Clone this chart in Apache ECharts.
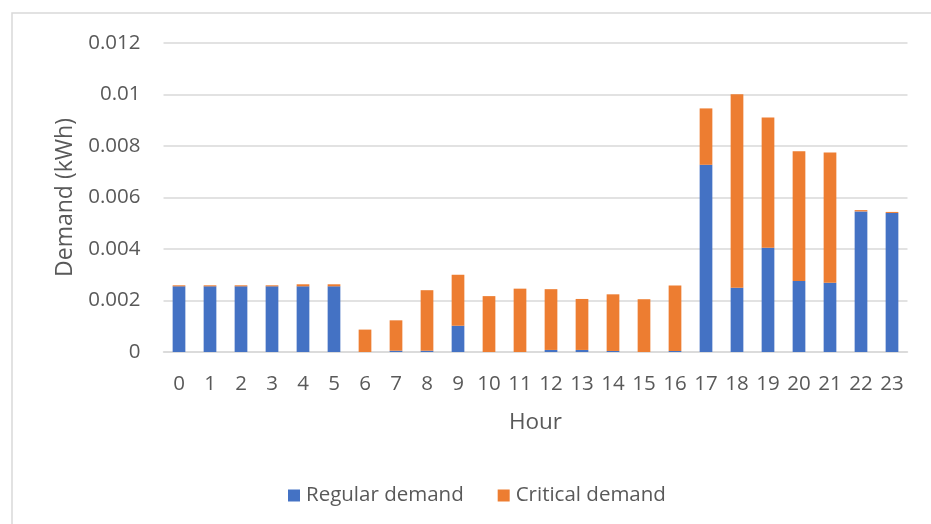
<!DOCTYPE html>
<html>
<head>
<meta charset="utf-8">
<script src="https://cdn.jsdelivr.net/npm/echarts@6/dist/echarts.min.js"></script>
<style>
  html, body { margin: 0; padding: 0; background: #fff; }
  #chart { width: 931px; height: 524px; }
</style>
</head>
<body>
<div id="chart"></div>
<script>
// Hourly demand split into regular and critical components (kWh)
const hours = ['0','1','2','3','4','5','6','7','8','9','10','11','12','13','14','15','16','17','18','19','20','21','22','23'];
const regularDemand = [0.00255, 0.00255, 0.00255, 0.00255, 0.00255, 0.00255, 0, 0.00005, 0.00005, 0.00102, 0, 0,
                       0.00008, 0.00008, 0.00004, 0, 0.00004, 0.00727, 0.0025, 0.00405, 0.00276, 0.00269, 0.00546, 0.0054];
const criticalDemand = [0.00004, 0.00004, 0.00004, 0.00004, 0.00008, 0.00008, 0.00087, 0.00118, 0.00235, 0.00198, 0.00217, 0.00246,
                        0.00236, 0.00198, 0.0022, 0.00205, 0.00254, 0.00219, 0.00751, 0.00506, 0.00504, 0.00506, 0.00005, 0.00004];
const yTicks = { min: 0, max: 0.012, step: 0.002 };

const textColor = '#595959';
const gridColor = '#d9d9d9';
const fontFamily = '"Open Sans", sans-serif';

const chart = echarts.init(document.getElementById('chart'), null, { renderer: 'canvas' });
chart.setOption({
  backgroundColor: '#fff',
  animation: false,
  textStyle: { fontFamily: fontFamily, color: textColor },
  graphic: [{
    type: 'rect',
    shape: { x: 12, y: 13, width: 940, height: 540 },
    style: { fill: 'none', stroke: gridColor, lineWidth: 1.5 },
    silent: true
  }],
  grid: { left: 163.5, right: 23.5, top: 43, bottom: 172 },
  legend: {
    bottom: 13,
    left: 283,
    itemWidth: 12,
    itemHeight: 12,
    itemGap: 34,
    icon: 'rect',
    textStyle: { fontFamily: fontFamily, fontSize: 20.5, color: textColor, padding: [0, 0, 0, 1] },
    data: ['Regular demand', 'Critical demand']
  },
  xAxis: {
    type: 'category',
    data: hours,
    name: 'Hour',
    nameLocation: 'middle',
    nameGap: 59,
    nameTextStyle: { fontFamily: fontFamily, fontSize: 22.5, color: textColor },
    axisLine: { show: true, lineStyle: { color: gridColor, width: 1.5 } },
    axisTick: { show: false },
    axisLabel: { fontFamily: fontFamily, fontSize: 20.5, color: textColor, margin: 22, interval: 0 }
  },
  yAxis: {
    type: 'value',
    min: yTicks.min,
    max: yTicks.max,
    interval: yTicks.step,
    name: 'Demand (kWh)',
    nameLocation: 'middle',
    nameGap: 85,
    nameTextStyle: { fontFamily: fontFamily, fontSize: 23, color: textColor },
    axisLine: { show: false },
    axisTick: { show: false },
    splitLine: { lineStyle: { color: gridColor, width: 1.5 } },
    axisLabel: { fontFamily: fontFamily, fontSize: 20.5, color: textColor, margin: 23 }
  },
  series: [
    {
      name: 'Regular demand',
      type: 'bar',
      stack: 'demand',
      data: regularDemand,
      barWidth: '41%',
      itemStyle: { color: '#4472C4' }
    },
    {
      name: 'Critical demand',
      type: 'bar',
      stack: 'demand',
      data: criticalDemand,
      barWidth: '41%',
      itemStyle: { color: '#ED7D31' }
    }
  ]
});
</script>
</body>
</html>
